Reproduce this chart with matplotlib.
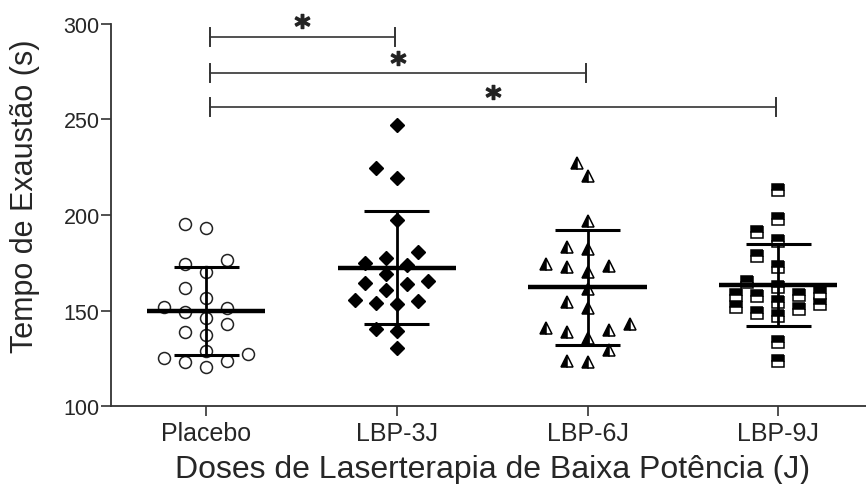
import numpy as np
import matplotlib
matplotlib.use("Agg")
import matplotlib.pyplot as plt

plt.rcParams['font.family'] = ['Liberation Sans', 'DejaVu Sans']

# grupos e valores (tempo de exaustao, s)
grupos = ["Placebo", "LBP-3J", "LBP-6J", "LBP-9J"]

placebo = [195.3, 193.0, 176.6, 174.3, 170.3, 161.6, 156.4, 151.7, 149.0, 151.1,
           145.9, 142.9, 138.9, 137.2, 127.2, 123.7, 128.9, 122.9, 125.0, 120.3]
lbp_3j = [247.1, 224.5, 219.2, 197.5, 180.8, 177.3, 174.9, 173.8, 169.1, 163.9,
          164.4, 165.6, 160.9, 155.7, 153.4, 153.9, 155.1, 140.3, 139.4, 130.2]
lbp_6j = [227.2, 220.3, 197.0, 182.2, 183.1, 174.3, 172.6, 170.0, 173.5, 161.3,
          154.3, 151.1, 140.7, 138.9, 140.0, 142.9, 135.4, 129.5, 123.2, 123.7]
lbp_9j = [213.3, 197.9, 191.3, 186.6, 178.4, 172.6, 162.1, 159.2, 157.8, 158.1,
          158.1, 164.8, 151.7, 148.7, 147.3, 150.8, 153.4, 154.3, 133.7, 123.7]

# comparacoes significativas (grupo a, grupo b, altura da barra)
comparacoes = [(0, 1, 293.4), (0, 2, 274.2), (0, 3, 256.4)]


# espalha os pontos como no GraphPad (colunas lado a lado, largura limitada)
# colisao eliptica em pixels: larg na horizontal, alt na vertical
def swarm(valores, px_x, px_y, passo=10.5, larg=20.0, alt=15.0, kmax=4):
    valores = np.asarray(valores)
    ordem = np.argsort(valores)
    colocados = []
    desloc = np.zeros(len(valores))
    cands = [0.0]
    for k in range(1, kmax + 1):
        cands += [-k * passo, k * passo]
    for i in ordem:
        y = valores[i] * px_y
        escolha, melhor = None, -1.0
        for c in cands:
            d = min([((c - a) / larg) ** 2 + ((y - b) / alt) ** 2
                     for a, b in colocados] + [9.0])
            if d >= 1.0:
                escolha = c
                break
            if d > melhor:
                escolha, melhor = c, d
        colocados.append((escolha, y))
        desloc[i] = escolha / px_x
    return desloc


fig = plt.figure(figsize=(8.66, 4.85), dpi=100)
ax = fig.add_axes([0.128, 0.1608, 0.872, 0.7877])
ax.set_xlim(-0.5, 3.46)
ax.set_ylim(100, 300)

px_x = 0.872 * 866 / 3.96
px_y = 0.7877 * 485 / 200.0

estilos = [
    dict(marker='o', ms=8.6, mfc='white', mec='#222222', mew=1.1),
    dict(marker='D', ms=7.2, mfc='black', mec='black', mew=1.0),
    dict(marker='^', ms=8.8, mfc='black', mfcalt='white', fillstyle='left',
         mec='black', mew=1.1),
    dict(marker='s', ms=8.3, mfc='black', mfcalt='white', fillstyle='top',
         mec='black', mew=1.1),
]

for i, dados in enumerate([placebo, lbp_3j, lbp_6j, lbp_9j]):
    dados = np.array(dados)
    dx = swarm(dados, px_x, px_y)
    ax.plot(i + dx, dados, linestyle='none', zorder=2, clip_on=False, **estilos[i])
    media = dados.mean()
    dp = dados.std(ddof=1)
    ax.plot([i - 0.31, i + 0.31], [media, media], color='black', lw=3.2, zorder=3,
            solid_capstyle='butt')
    ax.plot([i, i], [media - dp, media + dp], color='black', lw=2.0, zorder=3)
    for yy in [media - dp, media + dp]:
        ax.plot([i - 0.17, i + 0.17], [yy, yy], color='black', lw=2.2, zorder=3,
                solid_capstyle='butt')

# barras de significancia
for a, b, h in comparacoes:
    x0, x1 = a + 0.02, b - 0.01
    ax.plot([x0, x1], [h, h], color='#333333', lw=1.2, clip_on=False)
    ax.plot([x0, x0], [h - 4.7, h + 4.7], color='#333333', lw=1.4, clip_on=False)
    ax.plot([x1, x1], [h - 4.7, h + 4.7], color='#333333', lw=1.4, clip_on=False)
    ax.plot([(x0 + x1) / 2], [h + 8], marker=r'$\mathbf{*}$', ms=10.5, color='#222222',
            clip_on=False, linestyle='none')

ax.spines['top'].set_visible(False)
ax.spines['right'].set_visible(False)
for s in ['left', 'bottom']:
    ax.spines[s].set_color('#333333')
    ax.spines[s].set_linewidth(1.3)

ax.set_xticks(range(4))
ax.set_xticklabels(grupos)
ax.set_yticks([100, 150, 200, 250, 300])
ax.tick_params(axis='x', length=7, width=1.2, color='#333333', pad=4,
               labelsize=18, labelcolor='#262626')
ax.tick_params(axis='y', length=7, width=1.2, color='#333333', pad=1,
               labelsize=15.5, labelcolor='#262626')

fig.text(25 / 866, 1 - 196.5 / 485, "Tempo de Exaustão (s)", rotation=90,
         ha='center', va='center', fontsize=22, color='#262626')
fig.text(493 / 866, 1 - 478.5 / 485, "Doses de Laserterapia de Baixa Potência (J)",
         ha='center', va='baseline', fontsize=23, color='#262626')

fig.savefig("out.png", dpi=100)
